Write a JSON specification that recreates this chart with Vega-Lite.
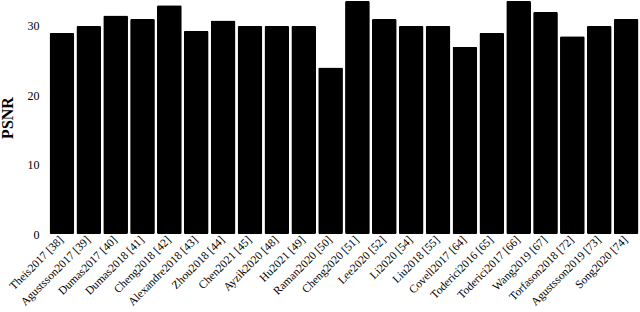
{
  "$schema": "https://vega.github.io/schema/vega-lite/v6.json",
  "width": 590,
  "height": 233,
  "autosize": "none",
  "padding": {"left": 49, "top": 1, "right": 1, "bottom": 78},
  "background": "white",
  "data": {"values": [
    {"method": "Theis2017 [38]", "psnr": 29.0},
    {"method": "Agustsson2017 [39]", "psnr": 30.0},
    {"method": "Dumas2017 [40]", "psnr": 31.5},
    {"method": "Dumas2018 [41]", "psnr": 31.0},
    {"method": "Cheng2018 [42]", "psnr": 33.0},
    {"method": "Alexandre2018 [43]", "psnr": 29.3},
    {"method": "Zhou2018 [44]", "psnr": 30.8},
    {"method": "Chen2021 [45]", "psnr": 30.0},
    {"method": "Ayzik2020 [48]", "psnr": 30.0},
    {"method": "Hu2021 [49]", "psnr": 30.0},
    {"method": "Raman2020 [50]", "psnr": 24.0},
    {"method": "Cheng2020 [51]", "psnr": 33.6},
    {"method": "Lee2020 [52]", "psnr": 31.0},
    {"method": "Li2020 [54]", "psnr": 30.0},
    {"method": "Liu2018 [55]", "psnr": 30.0},
    {"method": "Covell2017 [64]", "psnr": 27.0},
    {"method": "Toderici2016 [65]", "psnr": 29.0},
    {"method": "Toderici2017 [66]", "psnr": 33.6},
    {"method": "Wang2019 [67]", "psnr": 32.0},
    {"method": "Torfason2018 [72]", "psnr": 28.5},
    {"method": "Agustsson2019 [73]", "psnr": 30.0},
    {"method": "Song2020 [74]", "psnr": 31.0}
  ]},
  "mark": {"type": "bar", "color": "black", "cornerRadius": 1.5},
  "encoding": {
    "x": {
      "field": "method", "type": "nominal", "sort": null,
      "scale": {"paddingInner": 0.08, "paddingOuter": 0.02},
      "axis": {
        "title": null, "labelAngle": -45, "labelAlign": "right", "labelBaseline": "middle",
        "labelFont": "Liberation Serif", "labelFontSize": 11.5, "labelColor": "black",
        "domain": false, "ticks": false, "labelPadding": 4, "labelOverlap": false
      }
    },
    "y": {
      "field": "psnr", "type": "quantitative",
      "scale": {"domain": [0, 33.6], "nice": false},
      "axis": {
        "title": "PSNR", "titleFont": "Liberation Serif", "titleFontSize": 16, "titleFontWeight": "bold",
        "titleColor": "black", "titlePadding": 12,
        "values": [0, 10, 20, 30], "labelFont": "Liberation Serif", "labelFontSize": 12, "labelColor": "black",
        "domain": false, "ticks": false, "grid": false, "labelPadding": 10
      }
    }
  },
  "config": {"view": {"stroke": null}}
}
